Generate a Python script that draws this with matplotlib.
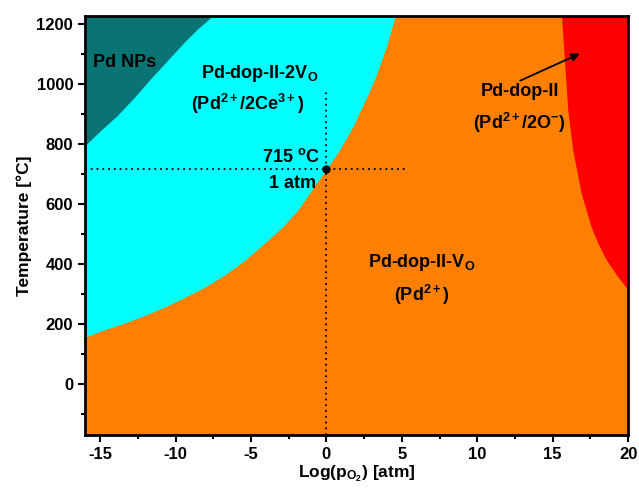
import matplotlib.pyplot as plt
import numpy as np
from matplotlib.ticker import MultipleLocator

plt.rcParams['font.family'] = ['Liberation Sans', 'DejaVu Sans']
plt.rcParams['font.weight'] = 'bold'
plt.rcParams['axes.labelweight'] = 'bold'
plt.rcParams['axes.unicode_minus'] = False
plt.rcParams['mathtext.fontset'] = 'custom'
plt.rcParams['mathtext.rm'] = 'Liberation Sans:bold'
plt.rcParams['mathtext.it'] = 'Liberation Sans:bold'
plt.rcParams['mathtext.bf'] = 'Liberation Sans:bold'

# phase boundaries (log pO2 [atm], T [C])
np_y = [794, 844, 894, 953, 1017, 1077, 1138, 1182, 1216, 1225]
np_x = [-16.0, -14.96, -13.86, -12.75, -11.64, -10.54, -9.42, -8.54, -7.76, -7.62]

vo2_y = [155, 180, 202, 227, 255, 287, 321, 362, 410, 468, 522, 578,
         667, 714, 778, 855, 950, 1027, 1121, 1216, 1225]
vo2_x = [-16.0, -14.72, -13.40, -12.07, -10.74, -9.42, -8.09, -6.76, -5.44,
         -4.11, -2.92, -1.90, -0.68, 0.0, 0.86, 1.74, 2.63, 3.30, 3.96,
         4.51, 4.56]

red_y = [313, 335, 357, 388, 423, 470, 523, 634, 778, 911, 1077, 1216, 1225]
red_x = [20.0, 19.65, 19.32, 18.88, 18.44, 17.98, 17.55, 16.89, 16.33,
         16.0, 15.78, 15.60, 15.59]

# the 715 C / 1 atm reference point
pt_x, pt_y = 0, 715

xmin, xmax = -16, 20
ymin, ymax = -170, 1225

fig = plt.figure(figsize=(6.39, 4.88), dpi=100)
ax = fig.add_axes([0.133, 0.109, 0.850, 0.858])
ax.set_facecolor('#ff8000')

ax.fill_betweenx(vo2_y, xmin, vo2_x, color='#00ffff', lw=0, zorder=1)
ax.fill_betweenx(np_y, xmin, np_x, color='#0a7474', lw=0, zorder=2)
ax.fill_betweenx(red_y, red_x, xmax, color='#ff0000', lw=0, zorder=2)

dots = dict(color='black', lw=1.3, ls=(0, (1, 2.2)), zorder=4)
ax.plot([xmin, 5.4], [pt_y, pt_y], **dots)
ax.plot([pt_x, pt_x], [ymin, 972], **dots)
ax.plot(pt_x, pt_y, 'o', color='black', ms=5, zorder=5)

fs = 13
ax.text(-15.5, 1070, 'Pd NPs', fontsize=fs, va='center', ha='left')
ax.text(-4.4, 1035, r'Pd-dop-II-2V$_{\mathrm{O}}$', fontsize=fs, ha='center', va='center')
ax.text(-5.2, 932, r'(Pd$^{2+}$/2Ce$^{3+}$)', fontsize=fs, ha='center', va='center')
ax.text(-0.45, 755, r'715 $^{\mathrm{o}}$C', fontsize=fs, ha='right', va='center')
ax.text(-0.7, 668, '1 atm', fontsize=fs, ha='right', va='center')
ax.text(12.8, 975, 'Pd-dop-II', fontsize=fs, ha='center', va='center')
ax.text(12.8, 868, r'(Pd$^{2+}$/2O$^{-}$)', fontsize=fs, ha='center', va='center')
ax.text(6.3, 405, r'Pd-dop-II-V$_{\mathrm{O}}$', fontsize=fs, ha='center', va='center')
ax.text(6.3, 295, r'(Pd$^{2+}$)', fontsize=fs, ha='center', va='center')

ax.annotate('', xy=(16.8, 1100), xytext=(12.85, 1010),
            arrowprops=dict(arrowstyle='-|>', color='black', lw=1.3,
                            mutation_scale=12, shrinkA=0, shrinkB=0),
            zorder=6)

ax.set_xlim(xmin, xmax)
ax.set_ylim(ymin, ymax)
ax.xaxis.set_major_locator(MultipleLocator(5))
ax.xaxis.set_minor_locator(MultipleLocator(2.5))
ax.yaxis.set_minor_locator(MultipleLocator(100))
ax.set_yticks([0, 200, 400, 600, 800, 1000, 1200])
ax.tick_params(which='major', length=5, width=1.5, labelsize=12, direction='out')
ax.tick_params(which='minor', length=3, width=1.5, direction='out')
for s in ax.spines.values():
    s.set_linewidth(2)
    s.set_zorder(10)

ax.set_xlabel(r'Log(p$_{\mathrm{O_2}}$) [atm]', fontsize=12.5, fontweight='bold', labelpad=1)
ax.set_ylabel('Temperature [°C]', fontsize=12.5, fontweight='bold', labelpad=3)

fig.canvas.draw()
for lab in ax.get_xticklabels() + ax.get_yticklabels():
    lab.set_fontweight('bold')

fig.savefig('out.png', dpi=100)
